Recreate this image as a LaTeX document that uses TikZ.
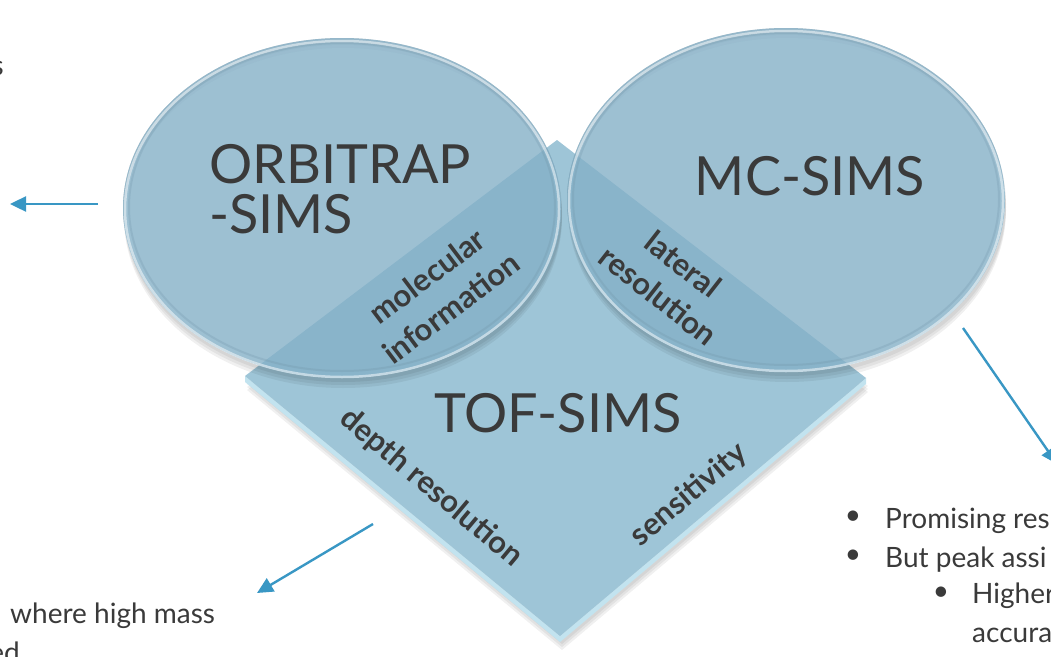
\documentclass[tikz,border=0pt]{standalone}
\usepackage{fontspec}
\setmainfont{Lato}
\usetikzlibrary{arrows.meta}
\definecolor{discblue}{RGB}{132,176,199}
\definecolor{faceblue}{RGB}{158,197,215}
\definecolor{rimblue}{RGB}{194,227,239}
\definecolor{ink}{RGB}{58,58,58}
\definecolor{pointerblue}{RGB}{57,151,196}
\begin{document}
\begin{tikzpicture}[x=1pt,y=-1pt,
  disc/.style={fill=discblue,fill opacity=0.8},
  discrim/.style={draw=white,draw opacity=0.5,line width=2.5pt},
  discinner/.style={draw=discblue!80!black,draw opacity=0.22,line width=2pt},
  softshadow/.style={fill=black,fill opacity=0.06},
  title/.style={text=ink,font=\fontsize{54}{54}\selectfont,inner sep=0pt},
  edgelabel/.style={text=ink,font=\bfseries\fontsize{31}{40}\selectfont,align=center,inner sep=0pt},
  bodytext/.style={text=ink,font=\fontsize{28}{32}\selectfont,inner sep=0pt},
  pointer/.style={pointerblue,line width=2.4pt,-{Triangle[length=16pt,width=15pt]}},
]
\useasboundingbox (0,0) rectangle (1051,656);
\clip (0,0) rectangle (1051,656);

% corners of the TOF-SIMS plate
\coordinate (dT) at (557,140);
\coordinate (dL) at (245,376);
\coordinate (dB) at (560,636);
\coordinate (dR) at (866,378);

% soft shadow below the plate
\foreach \s in {8,11,14}{
  \fill[softshadow] ([shift={(2,\s)}]dT) -- ([shift={(2,\s)}]dL) -- ([shift={(2,\s)}]dB) -- ([shift={(2,\s)}]dR) -- cycle;
}
% light bevel along the lower edges
\fill[rimblue] (dL) -- ([shift={(0,6)}]dL) -- ([shift={(0,6)}]dB) -- ([shift={(0,6)}]dR) -- (dR) -- (dB) -- cycle;
% top face
\fill[faceblue] (dT) -- (dL) -- (dB) -- (dR) -- cycle;

% soft shadows of the discs, only outside each disc
\foreach \s in {4,7,10}{
  \fill[softshadow,even odd rule] (343,208+\s) ellipse [x radius=219, y radius=170]
                                  (342,208) ellipse [x radius=219, y radius=170];
  \fill[softshadow,even odd rule] (787,200+\s) ellipse [x radius=219, y radius=172]
                                  (786,200) ellipse [x radius=219, y radius=172];
}
% translucent discs
\fill[disc] (342,208) ellipse [x radius=219, y radius=170];
\fill[disc] (786,200) ellipse [x radius=219, y radius=172];
\draw[discrim] (342,209) ellipse [x radius=217, y radius=168];
\draw[discrim] (786,201) ellipse [x radius=217, y radius=170];
\draw[discinner] (342,207) ellipse [x radius=213, y radius=164];
\draw[discinner] (786,199) ellipse [x radius=213, y radius=166];

% technique names
\node[title,anchor=base west] (orbA) at (209,183) {ORBITRAP};
\node[title,anchor=base west] (orbB) at (209,233) {-SIMS};
\node[title,anchor=base] (mc) at (810,195) {MC-SIMS};
\node[title,anchor=base] (tof) at (558,432) {TOF-SIMS};

% strengths along the plate edges
\node[edgelabel,rotate=37] (mol) at (439,292) {molecular\\information};
\node[edgelabel,rotate=-38] (lat) at (671,280) {lateral\\resolution};
\node[edgelabel,rotate=-40] (depth) at (431,488) {depth resolution};
\node[edgelabel,rotate=40] (sens) at (689,495) {sensitivity};

% surrounding notes
\node[bodytext,anchor=base east] (noteA) at (4,75) {s};
\node[bodytext,anchor=base west] (noteB) at (10,623) {where high mass};
\node[bodytext,anchor=base east] (noteC) at (20,662) {ed};

\node[bodytext] (b1) at (853,518) {•};
\node[bodytext,anchor=base west] (t1) at (885,528) {Promising res};
\node[bodytext] (b2) at (853,557) {•};
\node[bodytext,anchor=base west] (t2) at (885,567) {But peak assi};
\node[bodytext] (b3) at (941,594) {•};
\node[bodytext,anchor=base west] (t3) at (972,603) {Higher};
\node[bodytext,anchor=base west] (t4) at (972,642) {accura};

% pointers
\coordinate (p1s) at (98,204);
\coordinate (p1e) at (10,204);
\coordinate (p2s) at (373,524);
\coordinate (p2e) at (257,593);
\coordinate (p3s) at (963,328);
\coordinate (p3e) at (1057,464);
\draw[pointer] (p1s) -- (p1e);
\draw[pointer] (p2s) -- (p2e);
\draw[pointer] (p3s) -- (p3e);
\end{tikzpicture}
\end{document}
